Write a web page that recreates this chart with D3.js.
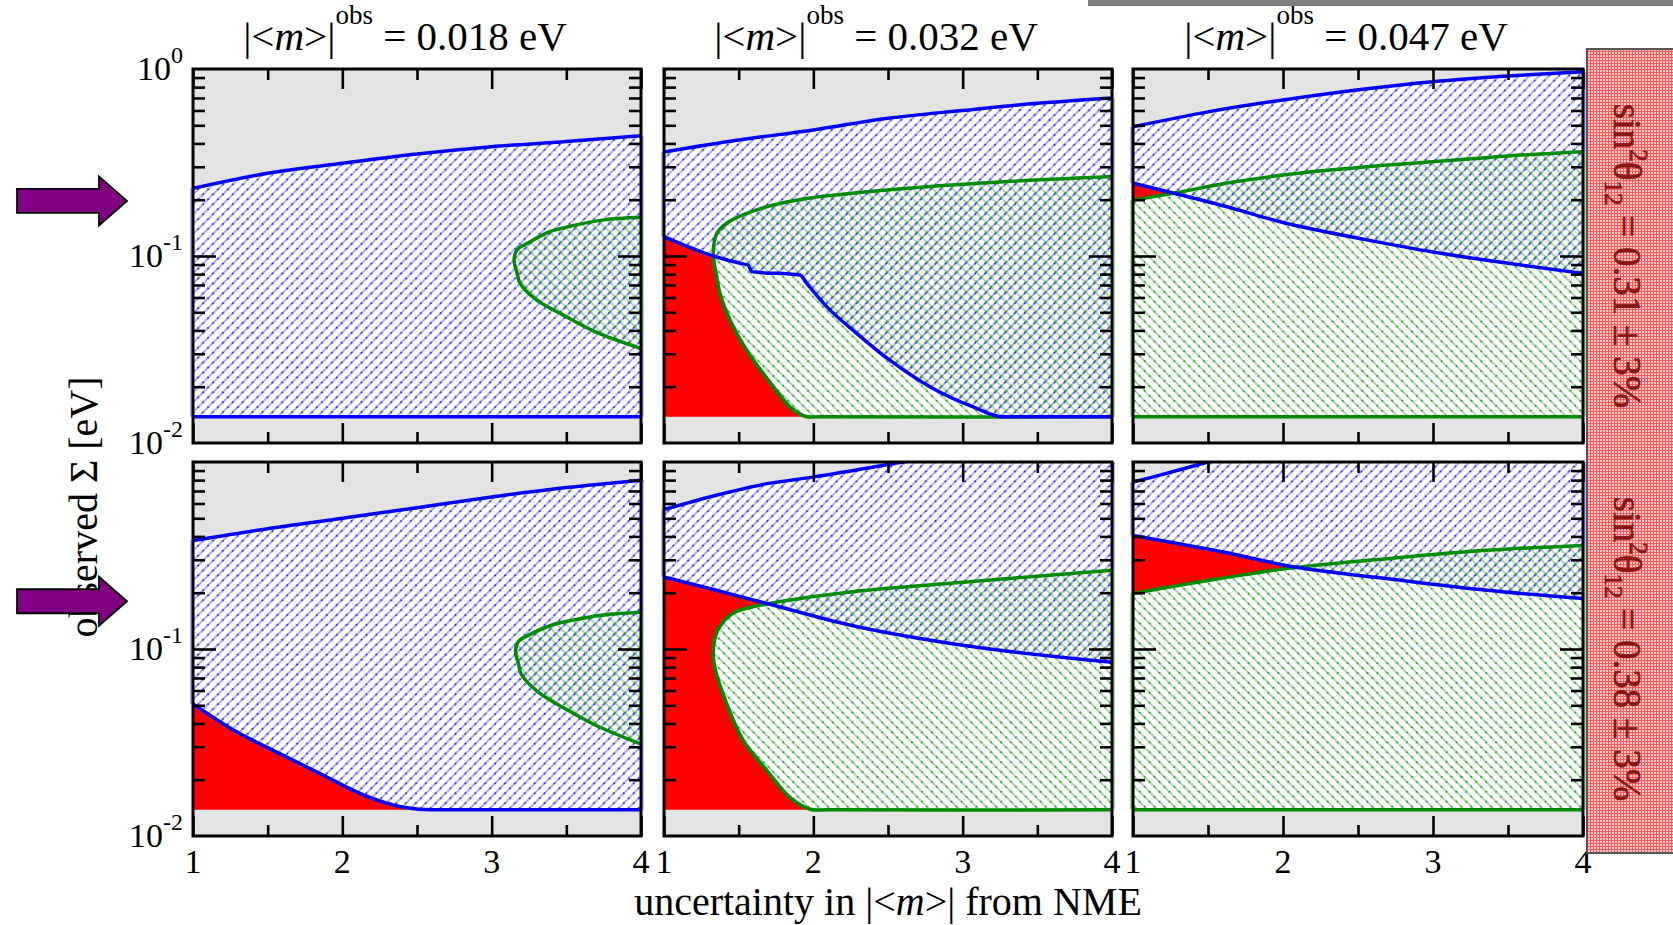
<!DOCTYPE html>
<html>
<head>
<meta charset="utf-8">
<script src="https://cdn.jsdelivr.net/npm/d3@7"></script>
<style>
  body { margin: 0; background: #fff; }
  text { font-family: "Liberation Serif", "Times New Roman", serif; }
</style>
</head>
<body>
<svg id="chart" width="1673" height="925"></svg>
<script>
// ---- values ----
var massObs = ["0.018", "0.032", "0.047"];          // column titles, eV
var sin2Labels = ["0.31", "0.38"];                  // row labels
var xMajor = [1, 2, 3, 4];
var xMinor = [1.5, 2.5, 3.5];
var yMajor = [0.1];
var yMinor = [0.02, 0.03, 0.04, 0.05, 0.06, 0.07, 0.08, 0.09, 0.2, 0.3, 0.4, 0.5, 0.6, 0.7, 0.8, 0.9];
var yLabelsTop = [[1, "0"], [0.1, "-1"], [0.01, "-2"]];
var yLabelsBottom = [[0.1, "-1"], [0.01, "-2"]];
var arrowSigma = [0.197, 0.18];

// row 1 (sin2 = 0.31)
var r1c1BlueTop = [[1,0.230],[1.5,0.277],[2,0.313],[2.5,0.351],[3,0.384],[3.5,0.409],[4,0.440]];
var r1c1BlueLow = [[1,0.0138],[4,0.0138]];
var r1c1GreenTop = [[3.15,0.095],[3.17,0.108],[3.24,0.117],[3.39,0.135],[3.54,0.145],[3.75,0.156],[4,0.161]];
var r1c1GreenLow = [[3.15,0.095],[3.17,0.081],[3.19,0.0714],[3.30,0.0582],[3.48,0.0483],[3.69,0.0394],[4,0.032]];

var r1c2BlueTop = [[1,0.36],[1.5,0.417],[2,0.472],[2.5,0.545],[3,0.60],[3.5,0.655],[4,0.70]];
var r1c2BlueLow = [[1,0.127],[1.33,0.100],[1.51,0.0914],[1.565,0.0891],[1.587,0.0825],[1.91,0.0791],[1.956,0.0714],[2.09,0.0536],[2.29,0.0386],[2.51,0.0278],[2.78,0.020],[3.07,0.0156],[3.27,0.0138],[4,0.0138]];
var r1c2GreenTop = [[1.33,0.103],[1.353,0.132],[1.42,0.150],[1.554,0.169],[1.733,0.1875],[1.956,0.203],[2.63,0.230],[3.30,0.250],[4,0.266]];
var r1c2GreenLow = [[1.33,0.103],[1.353,0.0776],[1.375,0.063],[1.442,0.0455],[1.554,0.0314],[1.733,0.020],[1.844,0.0156],[1.945,0.0139],[2.05,0.0138],[4,0.0138]];

var r1c3BlueTop = [[1,0.491],[1.5,0.59],[2,0.683],[3,0.855],[3.5,0.917],[4,0.968]];
var r1c3BlueLow = [[1,0.245],[1.26,0.218],[1.62,0.184],[2,0.151],[2.56,0.122],[3,0.105],[3.5,0.0914],[4,0.0807]];
var r1c3GreenTop = [[1,0.199],[1.26,0.216],[1.62,0.245],[2,0.271],[2.56,0.30],[3,0.319],[3.5,0.343],[4,0.361]];
var r1c3GreenLow = [[1,0.0138],[4,0.0138]];

// row 2 (sin2 = 0.38)
var r2c1BlueTop = [[1,0.38],[1.5,0.44],[2,0.50],[2.5,0.57],[3,0.65],[3.5,0.73],[4,0.80]];
var r2c1BlueLow = [[1,0.0508],[1.28,0.0365],[1.56,0.0281],[1.85,0.0216],[2.14,0.0166],[2.42,0.0142],[2.6,0.0138],[4,0.0138]];
var r2c1GreenTop = [[3.16,0.0975],[3.18,0.110],[3.25,0.119],[3.40,0.134],[3.55,0.143],[3.75,0.152],[4,0.157]];
var r2c1GreenLow = [[3.16,0.0975],[3.18,0.083],[3.20,0.073],[3.31,0.059],[3.49,0.048],[3.70,0.039],[4,0.031]];

var r2c2BlueTop = [[1,0.556],[1.35,0.664],[1.69,0.766],[2,0.83],[2.47,0.96],[2.6,1.0],[3,1.08],[4,1.25]];
var r2c2BlueLow = [[1,0.243],[1.35,0.206],[1.69,0.175],[2.25,0.134],[2.92,0.107],[4,0.085]];
var r2c2GreenTop = [[1.33,0.098],[1.36,0.126],[1.46,0.155],[1.67,0.173],[2.25,0.202],[2.92,0.225],[4,0.264]];
var r2c2GreenLow = [[1.33,0.098],[1.34,0.080],[1.42,0.051],[1.53,0.0325],[1.69,0.0224],[1.84,0.0162],[1.98,0.0139],[2.1,0.0138],[4,0.0138]];

var r2c3BlueTop = [[1,0.78],[1.13,0.83],[1.44,0.97],[1.5,1.0],[2,1.15],[3,1.4],[4,1.6]];
var r2c3BlueLow = [[1,0.405],[1.6,0.33],[2.07,0.275],[2.69,0.238],[3.36,0.206],[4,0.186]];
var r2c3GreenTop = [[1,0.198],[1.58,0.238],[2.02,0.269],[2.69,0.304],[3.36,0.337],[4,0.358]];
var r2c3GreenLow = [[1,0.0138],[4,0.0138]];

var panels = [
  {row: 0, col: 0, blueTop: r1c1BlueTop, blueLow: r1c1BlueLow, greenTop: r1c1GreenTop, greenLow: r1c1GreenLow},
  {row: 0, col: 1, blueTop: r1c2BlueTop, blueLow: r1c2BlueLow, greenTop: r1c2GreenTop, greenLow: r1c2GreenLow},
  {row: 0, col: 2, blueTop: r1c3BlueTop, blueLow: r1c3BlueLow, greenTop: r1c3GreenTop, greenLow: r1c3GreenLow},
  {row: 1, col: 0, blueTop: r2c1BlueTop, blueLow: r2c1BlueLow, greenTop: r2c1GreenTop, greenLow: r2c1GreenLow},
  {row: 1, col: 1, blueTop: r2c2BlueTop, blueLow: r2c2BlueLow, greenTop: r2c2GreenTop, greenLow: r2c2GreenLow},
  {row: 1, col: 2, blueTop: r2c3BlueTop, blueLow: r2c3BlueLow, greenTop: r2c3GreenTop, greenLow: r2c3GreenLow}
];

// ---- layout ----
var colX = [[193, 641], [664, 1112], [1133, 1583]];
var rowY = [[69, 443], [462, 836]];
var BLUE = "#0000ff", GREEN = "#008c00", RED = "#ff0000", GRAY = "#e3e3e3";

var svg = d3.select("#chart");
svg.append("rect").attr("width", 1673).attr("height", 925).attr("fill", "#fff");
var defs = svg.append("defs");

// dotted diagonal hatch: faint line with darker dots along it
function hatch(id, angle, dark, light) {
  var p = defs.append("pattern").attr("id", id)
    .attr("patternUnits", "userSpaceOnUse")
    .attr("width", 7).attr("height", 7)
    .attr("patternTransform", "rotate(" + angle + ")");
  p.append("line").attr("x1", 1).attr("x2", 1).attr("y1", 0).attr("y2", 7).attr("stroke", light).attr("stroke-width", 1.4);
  p.append("line").attr("x1", 1).attr("x2", 1).attr("y1", 0).attr("y2", 1.6).attr("stroke", dark).attr("stroke-width", 1.6);
}
hatch("hBlue", 45, BLUE, "#8888ff");
hatch("hGreen", -45, "#008800", "#86c886");

var pinkGrid = defs.append("pattern").attr("id", "pink")
  .attr("patternUnits", "userSpaceOnUse").attr("width", 3).attr("height", 3);
pinkGrid.append("rect").attr("width", 3).attr("height", 3).attr("fill", "#ffc9c9");
pinkGrid.append("line").attr("x1", 0.5).attr("x2", 0.5).attr("y1", 0).attr("y2", 3).attr("stroke", "#f45a5a").attr("stroke-width", 1);
pinkGrid.append("line").attr("x1", 0).attr("x2", 3).attr("y1", 0.5).attr("y2", 0.5).attr("stroke", "#f45a5a").attr("stroke-width", 1);

function isLens(top, low) {
  return top[0][0] === low[0][0] && top[0][1] === low[0][1];
}

panels.forEach(function(p, i) {
  var x0 = colX[p.col][0], x1 = colX[p.col][1];
  var y0 = rowY[p.row][0], y1 = rowY[p.row][1];
  var x = d3.scaleLinear().domain([1, 4]).range([x0, x1]);
  var y = d3.scaleLog().domain([0.01, 1]).range([y1, y0]);

  var mono = d3.line().x(function(d) { return x(d[0]); }).y(function(d) { return y(d[1]); }).curve(d3.curveMonotoneX);
  var smooth = d3.line().x(function(d) { return x(d[0]); }).y(function(d) { return y(d[1]); }).curve(d3.curveCatmullRom.alpha(0.5));

  function band(top, low) {
    if (isLens(top, low)) {
      return smooth(low.slice().reverse().concat(top.slice(1))) + "Z";
    }
    return mono(top) + mono(low.slice().reverse()).replace(/^M/, "L") + "Z";
  }

  defs.append("clipPath").attr("id", "clip" + i)
    .append("rect").attr("x", x0).attr("y", y0).attr("width", x1 - x0).attr("height", y1 - y0);

  // faint polygon edges that show just outside the frame
  function edge(xv, lo, hi, col) {
    svg.append("line").attr("x1", x(xv)).attr("x2", x(xv))
      .attr("y1", y(lo)).attr("y2", Math.max(y(Math.min(hi, 1)), y0))
      .attr("stroke", col).attr("stroke-width", 6);
  }
  edge(1, p.blueLow[0][1], p.blueTop[0][1], "#b4b4ff");
  edge(4, p.blueLow[p.blueLow.length - 1][1], p.blueTop[p.blueTop.length - 1][1], "#b4b4ff");
  if (p.greenLow[0][0] === 1) edge(1, p.greenLow[0][1], p.greenTop[0][1], "#a8d8a8");
  edge(4, p.greenLow[p.greenLow.length - 1][1], p.greenTop[p.greenTop.length - 1][1], "#a8d8a8");

  var g = svg.append("g").attr("clip-path", "url(#clip" + i + ")");
  g.append("rect").attr("x", x0).attr("y", y0).attr("width", x1 - x0).attr("height", y1 - y0).attr("fill", GRAY);

  // red: not allowed by either measurement
  g.append("path").attr("d", band(p.blueTop, [[1, 0.0138], [4, 0.0138]])).attr("fill", RED);
  // white under hatches
  g.append("path").attr("d", band(p.blueTop, p.blueLow)).attr("fill", "#fff");
  g.append("path").attr("d", band(p.greenTop, p.greenLow)).attr("fill", "#fff");
  g.append("path").attr("d", band(p.blueTop, p.blueLow)).attr("fill", "url(#hBlue)");
  g.append("path").attr("d", band(p.greenTop, p.greenLow)).attr("fill", "url(#hGreen)");

  // outlines
  if (isLens(p.greenTop, p.greenLow)) {
    g.append("path").attr("d", smooth(p.greenLow.slice().reverse().concat(p.greenTop.slice(1))))
      .attr("fill", "none").attr("stroke", GREEN).attr("stroke-width", 3.5);
  } else {
    [p.greenTop, p.greenLow].forEach(function(s) {
      g.append("path").attr("d", mono(s)).attr("fill", "none").attr("stroke", GREEN).attr("stroke-width", 3.5);
    });
  }
  [p.blueTop, p.blueLow].forEach(function(s) {
    g.append("path").attr("d", mono(s)).attr("fill", "none").attr("stroke", BLUE).attr("stroke-width", 3.5);
  });

  // ticks on all four sides, pointing inward
  var ax = svg.append("g").attr("class", "ticks");
  function addAxis(gen, tr, vals, size) {
    ax.append("g").attr("transform", tr)
      .call(gen.tickValues(vals).tickSize(size).tickSizeOuter(0).tickFormat(""))
      .call(function(s) { s.select(".domain").remove(); });
  }
  addAxis(d3.axisBottom(x), "translate(0," + y1 + ")", xMajor, -20);
  addAxis(d3.axisBottom(x), "translate(0," + y1 + ")", xMinor, -11);
  addAxis(d3.axisTop(x), "translate(0," + y0 + ")", xMajor, -20);
  addAxis(d3.axisTop(x), "translate(0," + y0 + ")", xMinor, -11);
  addAxis(d3.axisLeft(y), "translate(" + x0 + ",0)", yMajor, -23);
  addAxis(d3.axisLeft(y), "translate(" + x0 + ",0)", yMinor, -12);
  addAxis(d3.axisRight(y), "translate(" + x1 + ",0)", yMajor, -23);
  addAxis(d3.axisRight(y), "translate(" + x1 + ",0)", yMinor, -12);
  ax.selectAll("line").attr("stroke", "#000").attr("stroke-width", 2.6);

  svg.append("rect").attr("x", x0).attr("y", y0).attr("width", x1 - x0).attr("height", y1 - y0)
    .attr("fill", "none").attr("stroke", "#000").attr("stroke-width", 3);

  // column titles
  if (p.row === 0) {
    var t = svg.append("text").attr("x", (x0 + x1) / 2 - 12).attr("y", 50)
      .attr("text-anchor", "middle").attr("font-size", 41);
    t.append("tspan").text("|<");
    t.append("tspan").attr("font-style", "italic").text("m");
    t.append("tspan").text(">|");
    t.append("tspan").attr("font-size", 27).attr("dy", -26).text("obs");
    t.append("tspan").attr("dy", 26).text(" = " + massObs[p.col] + " eV");
  }
  // y tick labels
  if (p.col === 0) {
    (p.row === 0 ? yLabelsTop : yLabelsBottom).forEach(function(l) {
      var tl = svg.append("text").attr("x", 183).attr("y", y(l[0]) + 10.5)
        .attr("text-anchor", "end").attr("font-size", 34);
      tl.append("tspan").text("10");
      tl.append("tspan").attr("font-size", 24).attr("dy", -17).text(l[1]);
    });
  }
  // x tick labels
  if (p.row === 1) {
    xMajor.forEach(function(v) {
      svg.append("text").attr("x", x(v)).attr("y", 873).attr("text-anchor", "middle")
        .attr("font-size", 34).text(v);
    });
  }
  p.y = y;
});

// axis titles
svg.append("text").attr("x", 888).attr("y", 915).attr("text-anchor", "middle").attr("font-size", 40)
  .call(function(t) {
    t.append("tspan").text("uncertainty in |<");
    t.append("tspan").attr("font-style", "italic").text("m");
    t.append("tspan").text(">| from NME");
  });
svg.append("text").attr("transform", "translate(97,507) rotate(-90)")
  .attr("text-anchor", "middle").attr("font-size", 40).text("observed \u03A3 [eV]");

// arrows marking the cosmological bound
arrowSigma.forEach(function(s, r) {
  var ty = panels[r * 3].y(s);
  var pts = [[17, ty - 12], [99, ty - 12], [99, ty - 24.5], [127, ty], [99, ty + 24.5], [99, ty + 12], [17, ty + 12]];
  svg.append("path").attr("d", d3.line()(pts) + "Z")
    .attr("fill", "#800080").attr("stroke", "#000").attr("stroke-width", 1.8);
});

// grey strip at the very top and pink side box
svg.append("rect").attr("x", 1088).attr("y", 0).attr("width", 585).attr("height", 6).attr("fill", "#808080");
svg.append("rect").attr("x", 1587).attr("y", 49).attr("width", 90).attr("height", 804)
  .attr("fill", "url(#pink)").attr("stroke", "#555").attr("stroke-width", 2);

sin2Labels.forEach(function(v, r) {
  var cy = (rowY[r][0] + rowY[r][1]) / 2;
  var s = svg.append("text").attr("transform", "translate(1614," + cy + ") rotate(90)")
    .attr("text-anchor", "middle").attr("font-size", 39)
    .attr("fill", "#8a1414").attr("stroke", "#8a1414").attr("stroke-width", 0.7);
  s.append("tspan").text("sin");
  s.append("tspan").attr("font-size", 25).attr("dy", -16).text("2");
  s.append("tspan").attr("dy", 16).text("\u03B8");
  s.append("tspan").attr("font-size", 25).attr("dy", 9).text("12");
  s.append("tspan").attr("dy", -9).text(" = " + v + " \u00B1 3%");
});
</script>
</body>
</html>
